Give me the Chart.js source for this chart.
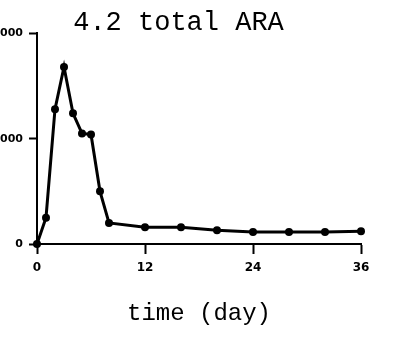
<!DOCTYPE html>
<html>
<head>
<meta charset="utf-8">
<script src="https://cdn.jsdelivr.net/npm/chart.js@4/dist/chart.umd.min.js"></script>
<style>
  html, body { margin: 0; padding: 0; background: #fff; overflow: hidden; }
  #wrap { position: relative; width: 397px; height: 344px; overflow: hidden; }
  /* canvas is pushed left so the y labels run off the page edge */
  #ara { position: absolute; left: -30px; top: 0; }
</style>
</head>
<body>
<div id="wrap"><canvas id="ara" width="427" height="344"></canvas></div>
<script>
// sampling days and total ARA
var days = [0, 1, 2, 3, 4, 5, 6, 7, 8, 12, 16, 20, 24, 28, 32, 36];
var araValues = [0, 250, 1280, 1680, 1240, 1050, 1040, 500, 200, 160, 160, 130, 115, 115, 115, 120];

var xTicks = [0, 12, 24, 36];
var yTicks = [0, 1000, 2000];
var chartTitle = '4.2 total ARA';
var xTitle = 'time (day)';

var ink = '#000';
var mono = '"Liberation Mono", "Courier New", monospace';

var ctx = document.getElementById('ara');
var araChart = new Chart(ctx, {
    type: 'line',
    data: {
        datasets: [{
            data: days.map(function (d, i) { return { x: d, y: araValues[i] }; }),
            borderColor: ink,
            backgroundColor: ink,
            borderWidth: 3,
            pointRadius: 4,
            pointBackgroundColor: ink,
            pointBorderColor: ink,
            pointBorderWidth: 0,
            tension: 0,
            fill: false,
            clip: false
        }]
    },
    options: {
        responsive: false,
        animation: false,
        devicePixelRatio: 1,
        layout: { padding: { left: 26, right: 36, top: 0, bottom: 0 } },
        plugins: {
            legend: { display: false },
            tooltip: { enabled: false },
            title: {
                display: true,
                text: chartTitle,
                color: ink,
                font: { family: mono, size: 27, weight: 'normal', lineHeight: 0.9 },
                padding: { top: 11, bottom: -2 }
            }
        },
        scales: {
            x: {
                type: 'linear',
                min: 0,
                max: 36,
                afterBuildTicks: function (scale) {
                    scale.ticks = xTicks.map(function (v) { return { value: v }; });
                },
                afterFit: function (scale) { scale.height = 100; },
                ticks: {
                    color: ink,
                    padding: 7,
                    maxRotation: 0,
                    font: { family: 'DejaVu Sans', size: 12, weight: 'bold' },
                    callback: function (v) { return String(v); }
                },
                grid: {
                    drawOnChartArea: false,
                    drawTicks: true,
                    tickLength: 10,
                    tickWidth: 2,
                    tickColor: ink
                },
                border: { display: true, color: ink, width: 2 },
                title: {
                    display: true,
                    text: xTitle,
                    color: ink,
                    font: { family: mono, size: 24, weight: 'normal', lineHeight: 1 },
                    padding: { top: 0, bottom: 18 }
                }
            },
            y: {
                min: 0,
                max: 2000,
                afterBuildTicks: function (scale) {
                    scale.ticks = yTicks.map(function (v) { return { value: v }; });
                },
                afterFit: function (scale) { scale.width = 41; },
                ticks: {
                    color: ink,
                    padding: 6,
                    font: { family: 'DejaVu Sans', size: 11, weight: 'bold' },
                    callback: function (v) { return String(v); }
                },
                grid: {
                    drawOnChartArea: false,
                    drawTicks: true,
                    tickLength: 8,
                    tickWidth: 2,
                    tickColor: ink
                },
                border: { display: true, color: ink, width: 2 }
            }
        }
    }
});
</script>
</body>
</html>
